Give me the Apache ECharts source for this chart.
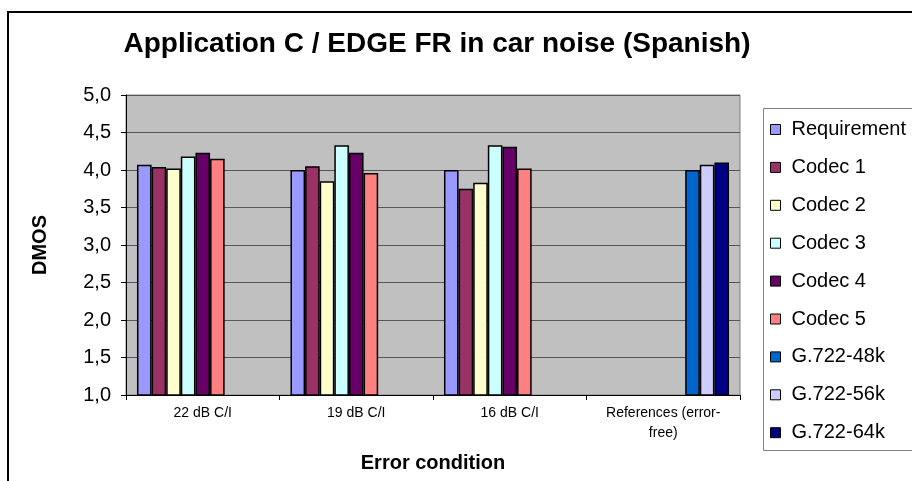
<!DOCTYPE html>
<html>
<head>
<meta charset="utf-8">
<script src="https://cdn.jsdelivr.net/npm/echarts@6/dist/echarts.min.js"></script>
<style>
  html, body { margin: 0; padding: 0; background: #ffffff; }
  #chart { width: 912px; height: 481px; }
</style>
</head>
<body>
<div id="chart"></div>
<script>
// Error conditions on the x axis
const categories = ['22 dB C/I', '19 dB C/I', '16 dB C/I', 'References (error-\nfree)'];

// DMOS scores per condition (null where a series is not tested)
const requirement = [4.07, 4.00, 4.00, null];
const codec1      = [4.04, 4.05, 3.75, null];
const codec2      = [4.02, 3.85, 3.83, null];
const codec3      = [4.18, 4.33, 4.33, null];
const codec4      = [4.23, 4.23, 4.31, null];
const codec5      = [4.15, 3.96, 4.02, null];
const g722_48k    = [null, null, null, 4.00];
const g722_56k    = [null, null, null, 4.07];
const g722_64k    = [null, null, null, 4.10];

const seriesNames = ['Requirement', 'Codec 1', 'Codec 2', 'Codec 3', 'Codec 4', 'Codec 5', 'G.722-48k', 'G.722-56k', 'G.722-64k'];
const seriesData  = [requirement, codec1, codec2, codec3, codec4, codec5, g722_48k, g722_56k, g722_64k];
const seriesColors = ['#9999FF', '#993366', '#FFFFCC', '#CCFFFF', '#660066', '#FF8080', '#0066CC', '#CCCCFF', '#000080'];

const yTicks = { min: 1, max: 5, interval: 0.5 };

const FONT = 'Arial, "Liberation Sans", sans-serif';

const chart = echarts.init(document.getElementById('chart'), null, { renderer: 'canvas' });

const option = {
  backgroundColor: '#ffffff',
  animation: false,
  title: {
    text: 'Application C / EDGE FR in car noise (Spanish)',
    left: 432,
    top: 25,
    textAlign: 'center',
    textStyle: { fontFamily: FONT, fontSize: 28, fontWeight: 'bold', color: '#000' }
  },
  graphic: [
    // outer chart frame
    { type: 'rect', shape: { x: 8, y: 12, width: 930, height: 500 }, style: { fill: 'none', stroke: '#000', lineWidth: 2 }, silent: true, z: 100 },
    // legend box
    { type: 'rect', shape: { x: 763.5, y: 108.5, width: 170, height: 342 }, style: { fill: '#fff', stroke: '#808080', lineWidth: 1 }, silent: true, z: 0 }
  ],
  legend: {
    orient: 'vertical',
    left: 770,
    top: 119.5,
    padding: 0,
    itemWidth: 10,
    itemHeight: 10,
    itemGap: 17.9,
    icon: 'rect',
    textStyle: { fontFamily: FONT, fontSize: 20, color: '#000', padding: [0, 0, 0, 6] },
    itemStyle: { borderColor: '#000', borderWidth: 1 },
    data: seriesNames
  },
  grid: {
    left: 126,
    top: 95,
    width: 614,
    height: 300,
    show: true,
    backgroundColor: '#C0C0C0',
    borderColor: '#808080',
    borderWidth: 1
  },
  xAxis: {
    type: 'category',
    data: categories,
    name: 'Error condition',
    nameLocation: 'middle',
    nameGap: 58,
    nameTextStyle: { fontFamily: FONT, fontSize: 20, fontWeight: 'bold', color: '#000' },
    axisLine: { show: true, lineStyle: { color: '#000', width: 1 } },
    axisTick: { show: true, alignWithLabel: false, length: 5, lineStyle: { color: '#000' } },
    axisLabel: { fontFamily: FONT, fontSize: 14, color: '#000', margin: 8, lineHeight: 20 }
  },
  yAxis: {
    type: 'value',
    min: yTicks.min,
    max: yTicks.max,
    interval: yTicks.interval,
    name: 'DMOS',
    nameLocation: 'middle',
    nameGap: 76,
    nameRotate: 90,
    nameTextStyle: { fontFamily: FONT, fontSize: 20, fontWeight: 'bold', color: '#000' },
    axisLine: { show: true, lineStyle: { color: '#000', width: 1 } },
    axisTick: { show: true, length: 5, lineStyle: { color: '#000' } },
    axisLabel: {
      fontFamily: FONT, fontSize: 20, color: '#000', margin: 15,
      formatter: v => v.toFixed(1).replace('.', ',')
    },
    splitLine: { show: true, lineStyle: { color: '#555', width: 1 } }
  },
  series: seriesNames.map((name, i) => ({
    name,
    type: 'bar',
    data: seriesData[i],
    barGap: '0%',
    barCategoryGap: '14.29%',
    itemStyle: { color: seriesColors[i], borderColor: '#000', borderWidth: 1.5 }
  }))
};

chart.setOption(option);
</script>
</body>
</html>
